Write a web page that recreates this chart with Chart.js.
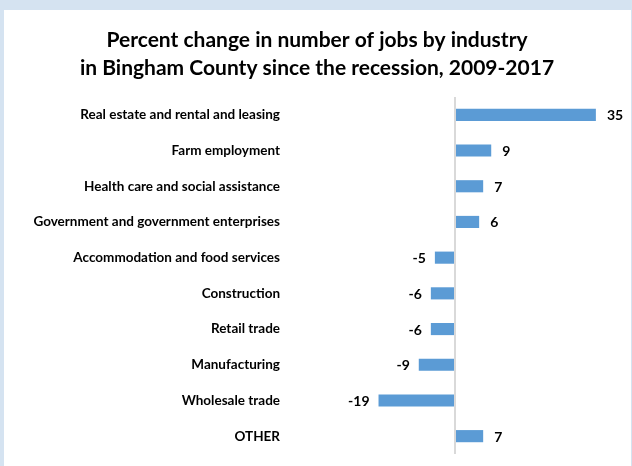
<!DOCTYPE html>
<html>
<head>
<meta charset="utf-8">
<script src="https://cdn.jsdelivr.net/npm/chart.js@4.4.1/dist/chart.umd.min.js"></script>
<style>
  html, body { margin: 0; padding: 0; }
  body { width: 632px; height: 466px; background: #d5e3f1; position: relative; overflow: hidden; }
  #box { position: absolute; left: 4px; top: 10px; width: 627px; height: 456px; background: #fff; }
  canvas { display: block; }
</style>
</head>
<body>
<div id="box"><canvas id="jobsChart" width="627" height="456"></canvas></div>
<script>
// categories, top to bottom
const industries = [
  "Real estate and rental and leasing",
  "Farm employment",
  "Health care and social assistance",
  "Government and government enterprises",
  "Accommodation and food services",
  "Construction",
  "Retail trade",
  "Manufacturing",
  "Wholesale trade",
  "OTHER"
];
// percent change 2009-2017
const pctChange = [35, 9, 7, 6, -5, -6, -6, -9, -19, 7];
const titleLines = [
  "Percent change in number of jobs by industry",
  "in Bingham County since the recession, 2009-2017"
];

const FONT = "Lato, 'Open Sans', sans-serif";

// draws the value next to each bar
const valueLabels = {
  id: "valueLabels",
  afterDatasetsDraw(chart) {
    const { ctx } = chart;
    const meta = chart.getDatasetMeta(0);
    ctx.save();
    ctx.font = "bold 14px " + FONT;
    ctx.fillStyle = "#000";
    ctx.textBaseline = "middle";
    meta.data.forEach((bar, i) => {
      const v = pctChange[i];
      if (v >= 0) {
        ctx.textAlign = "left";
        ctx.fillText(String(v), bar.x + 11, bar.y + 1);
      } else {
        ctx.textAlign = "right";
        ctx.fillText(String(v), bar.x - 9, bar.y + 1);
      }
    });
    ctx.restore();
  }
};

new Chart(document.getElementById("jobsChart"), {
  type: "bar",
  data: {
    labels: industries,
    datasets: [{
      data: pctChange,
      backgroundColor: "#5b9bd5",
      barPercentage: 0.34,
      categoryPercentage: 1
    }]
  },
  options: {
    indexAxis: "y",
    animation: false,
    responsive: false,
    layout: { padding: { left: 14, right: 15, top: 0, bottom: 12 } },
    scales: {
      x: {
        min: -40,
        max: 40,
        ticks: { display: false, stepSize: 40 },
        border: { display: false },
        grid: {
          drawTicks: false,
          lineWidth: 2,
          color: (c) => (c.tick && c.tick.value === 0 ? "#d9d9d9" : "rgba(0,0,0,0)")
        },
        afterFit: (scale) => { scale.height = 0; }
      },
      y: {
        border: { display: false },
        grid: { display: false, drawTicks: false },
        ticks: {
          padding: 14,
          color: "#000",
          font: { family: FONT, size: 13.5, weight: "bold" }
        },
        afterFit: (scale) => {
          scale.width = 276;
          // labels sit inside their slots, no extra room needed
          scale.paddingTop = 0;
          scale.paddingBottom = 0;
        }
      }
    },
    plugins: {
      legend: { display: false },
      tooltip: { enabled: false },
      title: {
        display: true,
        text: titleLines,
        color: "#000",
        font: { family: FONT, size: 21, weight: "bold", lineHeight: 28 / 21 },
        padding: { top: 16, bottom: 15 }
      }
    }
  },
  plugins: [valueLabels]
});
</script>
</body>
</html>
